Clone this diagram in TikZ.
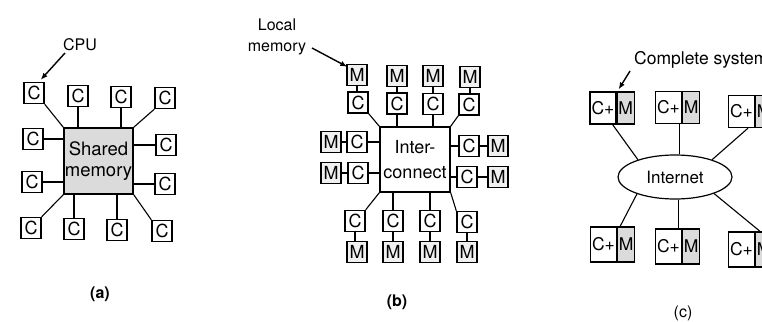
\documentclass[tikz,border=0pt]{standalone}
\usepackage{fontspec}
\setmainfont{TeX Gyre Heros}
\usetikzlibrary{arrows.meta,shapes.geometric}
\begin{document}
\begin{tikzpicture}[x=1pt,y=-1pt,
  cbox/.style={draw,line width=1.4pt,minimum width=20pt,minimum height=21pt,inner sep=0pt,font=\fontsize{18}{18}\selectfont},
  mbox/.style={cbox,fill=gray!12},
  conn/.style={line width=1.1pt},
  arr/.style={line width=1.4pt,-{Latex[length=7pt,width=5.5pt]}},
  lab/.style={font=\fontsize{16}{21}\selectfont,inner sep=0pt},
  cpart/.style={draw,line width=1.2pt,minimum width=26pt,minimum height=32pt,inner sep=0pt,font=\fontsize{17.5}{17.5}\selectfont},
  mpart/.style={cpart,minimum width=17pt,fill=gray!28},
]
\useasboundingbox (0,0) rectangle (762,321);
% ---------------- (a) ----------------
\node[draw,line width=1.4pt,fill=gray!28,minimum width=69pt,minimum height=66pt,inner sep=0pt,
      align=center,font=\fontsize{18.5}{21}\selectfont] (sm) at (98.5,161) {Shared\\memory};
\node[cbox] (at1) at (34,93) {C};
\node[cbox] (at2) at (78,96) {C};
\node[cbox] (at3) at (121,97) {C};
\node[cbox] (at4) at (165,98) {C};
\node[cbox] (al1) at (33,139) {C};
\node[cbox] (al2) at (32,182) {C};
\node[cbox] (ar1) at (166,145) {C};
\node[cbox] (ar2) at (165,184) {C};
\node[cbox] (ab1) at (31,228) {C};
\node[cbox] (ab2) at (74,229) {C};
\node[cbox] (ab3) at (117,230) {C};
\node[cbox] (ab4) at (162,231) {C};
\draw[conn] (at1.south east) -- (sm.north west);
\draw[conn] (at2.south) -- (at2.south |- sm.north);
\draw[conn] (at3.south) -- (at3.south |- sm.north);
\draw[conn] (at4.south west) -- (sm.north east);
\draw[conn] (al1.east) -- (al1.east -| sm.west);
\draw[conn] (al2.east) -- (al2.east -| sm.west);
\draw[conn] (ar1.west) -- (ar1.west -| sm.east);
\draw[conn] (ar2.west) -- (ar2.west -| sm.east);
\draw[conn] (ab1.north east) -- (sm.south west);
\draw[conn] (ab2.north) -- (ab2.north |- sm.south);
\draw[conn] (ab3.north) -- (ab3.north |- sm.south);
\draw[conn] (ab4.north west) -- (sm.south east);
\node[lab] (cpu) at (80,45) {CPU};
\coordinate (cpuA) at (65,53);
\draw[arr] (cpuA) -- ([xshift=-4pt,yshift=2pt]at1.north east);
\node[lab,font=\fontsize{16}{19}\selectfont\bfseries] (la) at (100,294) {(a)};
% ---------------- (b) ----------------
\node[draw,line width=1.3pt,minimum width=70pt,minimum height=65pt,inner sep=0pt,
      align=center,font=\fontsize{18}{25}\selectfont] (ic) at (415,159.5) {Inter-\\connect};
\node[mbox] (bmt1) at (357,75) {M};
\node[mbox] (bmt2) at (397,76) {M};
\node[mbox] (bmt3) at (433,76) {M};
\node[mbox] (bmt4) at (470,77) {M};
\node[cbox] (bct1) at (358,102.5) {C};
\node[cbox] (bct2) at (397,103.5) {C};
\node[cbox] (bct3) at (433,104) {C};
\node[cbox] (bct4) at (469,104.5) {C};
\node[mbox] (bml1) at (331,142) {M};
\node[cbox] (bcl1) at (357,142) {C};
\node[mbox] (bml2) at (331,173) {M};
\node[cbox] (bcl2) at (358,173) {C};
\node[cbox] (bcr1) at (469,146) {C};
\node[mbox] (bmr1) at (498,146) {M};
\node[cbox] (bcr2) at (467,177) {C};
\node[mbox] (bmr2) at (498,177) {M};
\node[cbox] (bcb1) at (355,221) {C};
\node[cbox] (bcb2) at (393,221) {C};
\node[cbox] (bcb3) at (430,221) {C};
\node[cbox] (bcb4) at (467,222) {C};
\node[mbox] (bmb1) at (357,252) {M};
\node[mbox] (bmb2) at (393,252) {M};
\node[mbox] (bmb3) at (430,252) {M};
\node[mbox] (bmb4) at (467,252) {M};
\foreach \i in {1,2,3,4}{
  \draw[conn] (bmt\i.south) -- (bmt\i.south |- bct\i.north);
  \draw[conn] (bcb\i.south) -- (bcb\i.south |- bmb\i.north);
}
\foreach \i in {1,2}{
  \draw[conn] (bml\i.east) -- (bml\i.east -| bcl\i.west);
  \draw[conn] (bcr\i.east) -- (bcr\i.east -| bmr\i.west);
  \draw[conn] (bcl\i.east) -- (bcl\i.east -| ic.west);
  \draw[conn] (bcr\i.west) -- (bcr\i.west -| ic.east);
}
\draw[conn] (bct1.south east) -- (ic.north west);
\draw[conn] (bct2.south) -- (bct2.south |- ic.north);
\draw[conn] (bct3.south) -- (bct3.south |- ic.north);
\draw[conn] (bct4.south west) -- (ic.north east);
\draw[conn] (bcb1.north east) -- (ic.south west);
\draw[conn] (bcb2.north) -- (bcb2.north |- ic.south);
\draw[conn] (bcb3.north) -- (bcb3.north |- ic.south);
\draw[conn] (bcb4.north west) -- (ic.south east);
\node[lab,align=center] (lm) at (277,37) {Local\\memory};
\coordinate (lmA) at (312,48);
\draw[arr] (lmA) -- ([xshift=1pt,yshift=-3pt]bmt1.north west);
\node[lab,font=\fontsize{16}{19}\selectfont\bfseries] (lb) at (397,302) {(b)};
% ---------------- (c) ----------------
\node[draw,ellipse,line width=1.2pt,minimum width=114pt,minimum height=44pt,inner sep=0pt,
      font=\fontsize{17}{17}\selectfont] (el) at (675,177) {Internet};
\node[cpart] (ct1) at (603,108) {C+};
\node[mpart,anchor=west] (mt1) at (ct1.east) {M};
\node[cpart] (ct2) at (668.5,107.5) {C+};
\node[mpart,anchor=west] (mt2) at (ct2.east) {M};
\node[cpart] (ct3) at (741.5,111.5) {C+};
\node[mpart,anchor=west] (mt3) at (ct3.east) {M};
\node[cpart,minimum height=35pt] (cb1) at (603.5,244.5) {C+};
\node[mpart,minimum height=35pt,anchor=west] (mb1) at (cb1.east) {M};
\node[cpart,minimum height=35pt] (cb2) at (668.5,246.5) {C+};
\node[mpart,minimum height=35pt,anchor=west] (mb2) at (cb2.east) {M};
\node[cpart,minimum height=35pt] (cb3) at (741.5,249.5) {C+};
\node[mpart,minimum height=35pt,anchor=west] (mb3) at (cb3.east) {M};
\draw[conn] ([xshift=-4pt]ct1.south east) -- (el.155);
\draw[conn] ([xshift=-3pt]ct2.south east) -- ([xshift=-3pt]ct2.south east |- el.north);
\draw[conn] ([xshift=-7pt]ct3.south east) -- (el.25);
\draw[conn] ([xshift=3pt]cb1.north east) -- (el.204);
\draw[conn] ([xshift=-4pt]cb2.north east) -- ([xshift=-4pt]cb2.north east |- el.south);
\draw[conn] ([xshift=5pt]mb3.north west) -- (el.337);
\node[lab,anchor=west,font=\fontsize{17.5}{19}\selectfont] (cs) at (634,60) {Complete system};
\coordinate (csA) at (630,71);
\draw[arr] (csA) -- ([xshift=2pt,yshift=2pt]mt1.north west);
\node[lab] (lc) at (683,313) {(c)};
\end{tikzpicture}
\end{document}
